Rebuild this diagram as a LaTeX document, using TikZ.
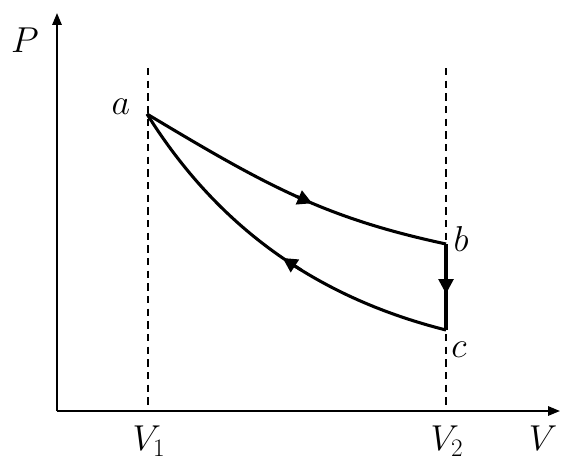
\RequirePackage{fix-cm}
\documentclass[tikz,border=0pt]{standalone}
\usepackage{amsmath}
\usepackage{xcolor}
\usetikzlibrary{arrows.meta}

\begin{document}
\begin{tikzpicture}[x=0.75pt,y=0.75pt,
  axis/.style={line width=1.5pt,-{Triangle[length=9pt,width=7pt]}},
  guide/.style={line width=1.3pt,dash pattern=on 5.5pt off 4pt},
  process/.style={line width=2.3pt,line join=round},
  tip/.style={-{Triangle[length=11pt,width=11pt]},line width=2.3pt},
  lbl/.style={font=\fontsize{27}{32}\selectfont}]
\useasboundingbox (0,0) rectangle (574,469);
% Draw the V and P axes and label them
\coordinate (O) at (57,58);
\coordinate (Vend) at (560,58);
\coordinate (Pend) at (57,456);
\draw[axis] (O) -- (Vend);
\draw[axis] (O) -- (Pend);
\node[lbl] (P) at (25,429) {$P$};
\node[lbl] (V) at (543,31) {$V$};
% Dashed guides at V1 and V2
\coordinate (V1top) at (148,401);
\coordinate (V1bot) at (148,58);
\coordinate (V2top) at (446,401);
\coordinate (V2bot) at (446,58);
\draw[guide] (V1top) -- (V1bot);
\draw[guide] (V2top) -- (V2bot);
\node[lbl] (V1) at (149,28) {$V_1$};
\node[lbl] (V2) at (447,28) {$V_2$};
% The states a, b, c
\coordinate (a) at (147,355);
\coordinate (b) at (446,225);
\coordinate (c) at (446,139);
\node[lbl] (la) at (121,362) {$a$};
\node[lbl] (lb) at (461,230) {$b$};
\node[lbl] (lc) at (459,119) {$c$};
% Plot the cycle a -> b -> c -> a, marking points for the arrow heads
\draw[process] (a) .. controls (267,283) and (325,251) .. (b)
  coordinate[pos=0.50] (ab1) coordinate[pos=0.56] (ab2);
\draw[process] (b) -- (c)
  coordinate[pos=0.40] (bc1) coordinate[pos=0.58] (bc2);
\draw[process] (c) .. controls (315,172) and (217,243) .. (a)
  coordinate[pos=0.41] (ca1) coordinate[pos=0.47] (ca2);
% Arrow heads
\draw[tip] (ab1) -- (ab2);
\draw[tip] (bc1) -- (bc2);
\draw[tip] (ca1) -- (ca2);
\end{tikzpicture}
\end{document}
